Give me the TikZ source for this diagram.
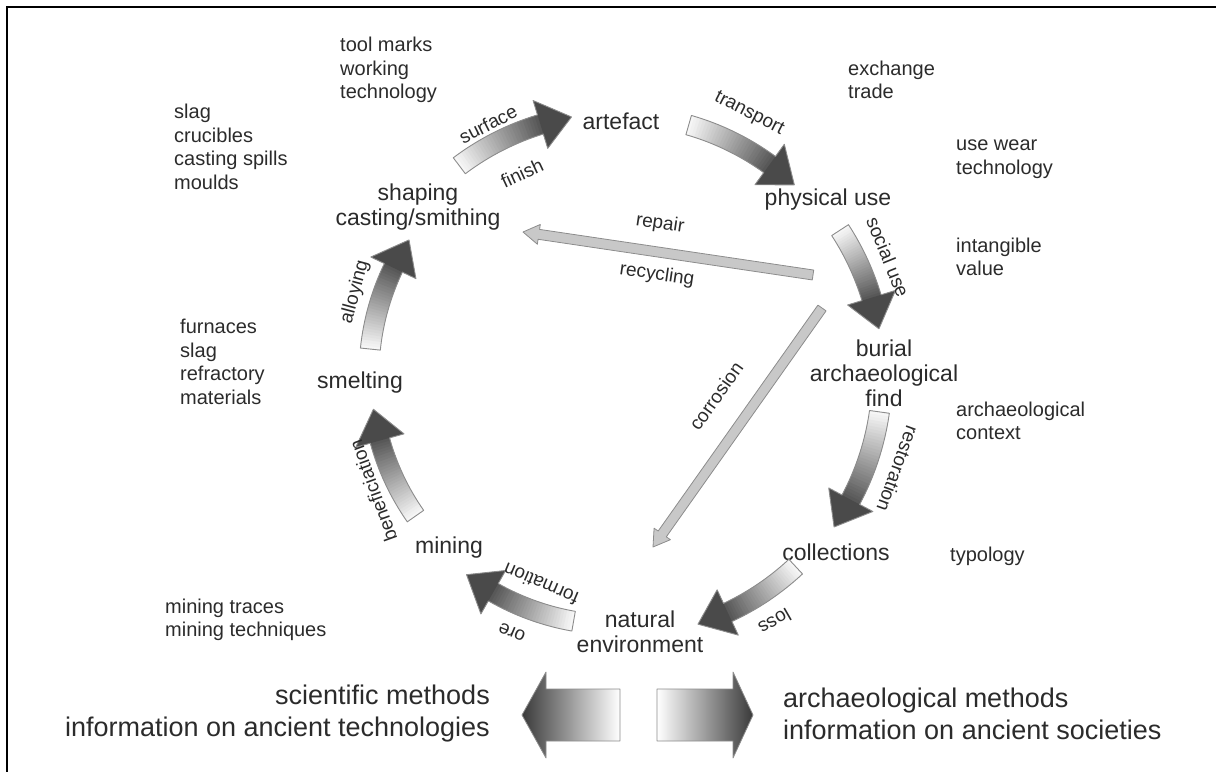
\documentclass[tikz,border=0pt]{standalone}
\usepackage{fontspec}
\setmainfont{Liberation Sans}
\usetikzlibrary{calc}
\definecolor{txt}{HTML}{2B2B2B}
\definecolor{arrlight}{HTML}{F6F6F6}
\definecolor{arrdark}{HTML}{585858}
\definecolor{headdark}{HTML}{4A4A4A}
\definecolor{arrline}{HTML}{8C8C8C}
\definecolor{barfill}{HTML}{C8C8C8}
\definecolor{bigdark}{HTML}{3A3A3A}

% curved block arrow on the cycle: #1 name, #2 radius, #3 tail angle, #4 tip angle
\newcommand\cycarrow[4]{%
 \begin{scope}[shift={(617,397)}]
  \pgfmathsetmacro\aT{#3}\pgfmathsetmacro\aP{#4}%
  \pgfmathsetmacro\aB{#4+1833.47/#2}%
  \pgfmathsetmacro\rIn{#2-10}\pgfmathsetmacro\rOut{#2+10}%
  \pgfmathsetmacro\hIn{#2-25}\pgfmathsetmacro\hOut{#2+25}%
  \coordinate (#1-tail) at (\aT:#2pt);
  \coordinate (#1-tip) at (\aP:#2pt);
  \foreach \i in {0,...,29}{%
    \pgfmathsetmacro\ta{\aT+(\aB-\aT)*\i/30}%
    \pgfmathsetmacro\tb{\aT+(\aB-\aT)*(\i+1.4)/30}%
    \pgfmathtruncatemacro\mix{\i*100/29}%
    \fill[arrdark!\mix!arrlight] (\ta:\rIn pt) arc[start angle=\ta,end angle=\tb,radius=\rIn pt]
      -- (\tb:\rOut pt) arc[start angle=\tb,end angle=\ta,radius=\rOut pt] -- cycle;
  }
  \fill[headdark] (\aB:\hIn pt) -- (#1-tip) -- (\aB:\hOut pt) -- cycle;
  \draw[arrline,line width=0.9pt,line join=round]
    (\aT:\rIn pt) arc[start angle=\aT,end angle=\aB,radius=\rIn pt]
    -- (\aB:\hIn pt) -- (#1-tip) -- (\aB:\hOut pt) -- (\aB:\rOut pt)
    arc[start angle=\aB,end angle=\aT,radius=\rOut pt] -- cycle;
 \end{scope}}

% straight thin arrow from named tail #1 to named tip #2
\newcommand\bararrow[2]{%
  \coordinate (bc) at ($(#2)!16pt!(#1)$);
  \draw[bar] ($(#1)!5pt!90:(#2)$) -- ($(bc)!5pt!90:(#2)$) -- ($(bc)!10pt!90:(#2)$)
    -- (#2) -- ($(bc)!10pt!-90:(#2)$) -- ($(bc)!5pt!-90:(#2)$) -- ($(#1)!5pt!-90:(#2)$) -- cycle;}

\begin{document}
\begin{tikzpicture}[x=1pt,y=1pt,
  main/.style={font=\fontsize{23}{25}\selectfont, text=txt, align=center, inner sep=0pt},
  note/.style={font=\fontsize{20}{23.5}\selectfont, text=txt, align=left, anchor=west, inner sep=0pt},
  alab/.style={font=\fontsize{19}{22}\selectfont, text=txt, inner sep=0pt},
  bigt/.style={font=\fontsize{27}{32}\selectfont, text=txt, inner sep=0pt},
  frameline/.style={line width=2.4pt, black},
  bar/.style={fill=barfill, draw=arrline, line width=0.8pt, line join=round},
  bigarr/.style={draw=arrline, line width=0.8pt, line join=round}]

\useasboundingbox (0,0) rectangle (1216,772);
\draw[frameline] (1216,765) -- (7,765) -- (7,0);

% stage labels
\node[main] (shaping) at (418,565) {shaping\\casting/smithing};
\node[main] (artefact) at (621,651) {artefact};
\node[main] (use) at (828,572) {physical use};
\node[main] (burial) at (884,399) {burial\\archaeological\\find};
\node[main] (coll) at (836,220) {collections};
\node[main] (nat) at (640,140) {natural\\environment};
\node[main] (mining) at (449,224) {mining};
\node[main] (smelt) at (360,389) {smelting};

% notes
\node[note] (n1) at (340,702) {tool marks\\working\\technology};
\node[note] (n2) at (174,625) {slag\\crucibles\\casting spills\\moulds};
\node[note] (n3) at (180,410) {furnaces\\slag\\refractory\\materials};
\node[note] (n4) at (165,152) {mining traces\\mining techniques};
\node[note] (n5) at (848,692) {exchange\\trade};
\node[note] (n6) at (956,613) {use wear\\technology};
\node[note] (n7) at (956,515) {intangible\\value};
\node[note] (n8) at (956,351) {archaeological\\context};
\node[note] (n9) at (950,216) {typology};

% cycle arrows
\cycarrow{a1}{262}{127}{100}
\cycarrow{a2}{260}{74}{47}
\cycarrow{a3}{266}{33}{10}
\cycarrow{a4}{265}{-8}{-35}
\cycarrow{a5}{262}{-47}{-72}
\cycarrow{a6}{250}{-100}{-127}
\cycarrow{a7}{246}{215}{188}
\cycarrow{a8}{248}{174}{147}

% arrow labels
\node[alab,rotate=27] (l1) at (488,648) {surface};
\node[alab,rotate=25] (l2) at (522,599) {finish};
\node[alab,rotate=-27] (l3) at (749,658) {transport};
\node[alab,rotate=-68] (l4) at (888,515) {social use};
\node[alab,rotate=-110] (l5) at (898,303) {restoration};
\node[alab,rotate=-150] (l6) at (775,150) {loss};
\node[alab,rotate=157] (l7) at (541,188) {formation};
\node[alab,rotate=157] (l8) at (512,140) {ore};
\node[alab,rotate=110] (l9) at (373,281) {beneficiation};
\node[alab,rotate=75] (l10) at (355,480) {alloying};

% straight arrows
\coordinate (repT) at (813,497);
\coordinate (repH) at (523,540);
\bararrow{repT}{repH}
\coordinate (corT) at (822,464);
\coordinate (corH) at (653,225);
\bararrow{corT}{corH}
\node[alab,rotate=-8.4] (l11) at (660,548) {repair};
\node[alab,rotate=-8.4] (l12) at (657,497) {recycling};
\node[alab,rotate=54.7] (l13) at (716,376) {corrosion};

% bottom
\draw[bigarr, left color=bigdark, right color=white]
  (620,83) -- (546,83) -- (546,100) -- (522,57) -- (546,14) -- (546,31) -- (620,31) -- cycle;
\draw[bigarr, left color=white, right color=bigdark]
  (657,83) -- (733,83) -- (733,100) -- (753,57) -- (733,14) -- (733,31) -- (657,31) -- cycle;
\node[bigt, align=right, anchor=east] (sci) at (490,58) {scientific methods\\information on ancient technologies};
\node[bigt, align=left, anchor=west] (arc) at (783,58) {archaeological methods\\information on ancient societies};
\end{tikzpicture}
\end{document}
